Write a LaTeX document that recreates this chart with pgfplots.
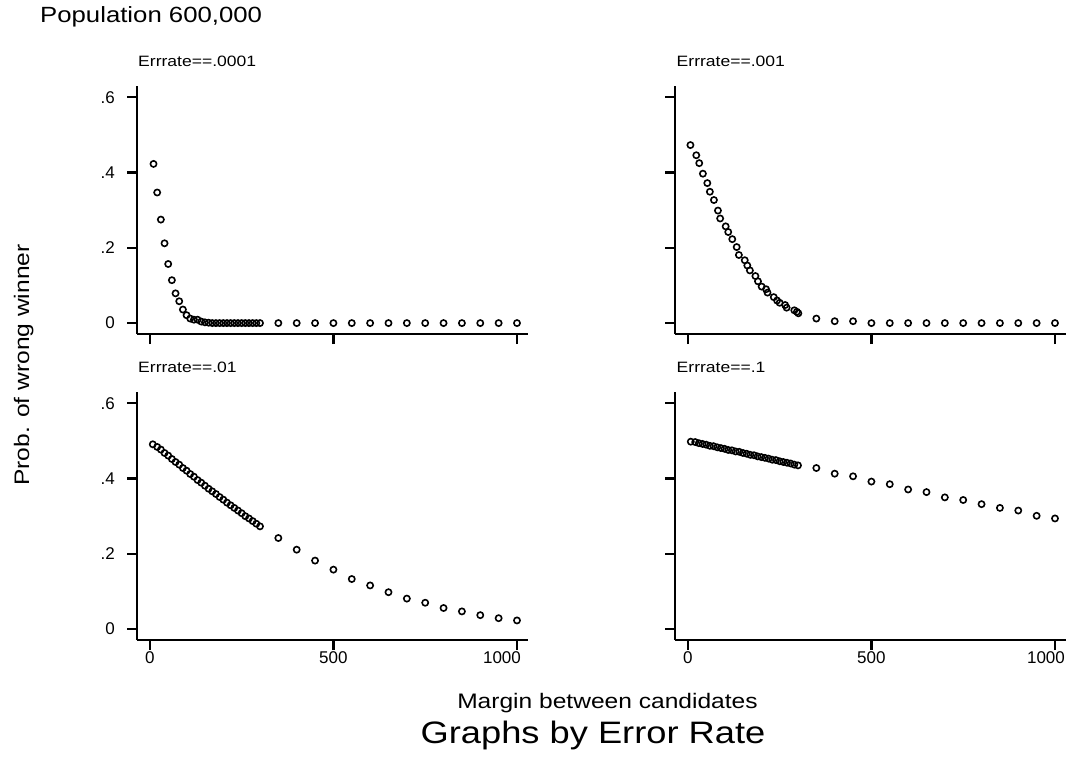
\documentclass[border=0pt]{standalone}
\usepackage{pgfplots}
\pgfplotsset{compat=1.18}
\usepackage{pgfplotstable}
\usepackage{fontspec}
\setmainfont{Liberation Sans}
\usepackage{graphicx}
\newcommand{\sx}[1]{\scalebox{1.17}[1]{#1}}

\pgfplotstableread{
x y
10 .423
20 .347
30 .275
40 .212
50 .157
60 .114
70 .079
80 .058
90 .036
100 .021
110 .012
120 .009
130 .009
140 .004
150 .002
160 .001
170 0
180 0
190 0
200 0
210 0
220 0
230 0
240 0
250 0
260 0
270 0
280 0
290 0
300 0
350 0
400 0
450 0
500 0
550 0
600 0
650 0
700 0
750 0
800 0
850 0
900 0
950 0
1000 0
}\tA

\pgfplotstableread{
x y
7 .473
23 .446
31 .425
41 .397
53 .372
60 .349
71 .327
82 .299
88 .278
103 .257
110 .242
121 .223
133 .202
139 .181
155 .167
162 .153
169 .140
184 .125
191 .111
201 .097
213 .090
217 .081
234 .069
243 .060
250 .054
265 .048
269 .041
290 .034
297 .030
301 .026
350 .012
400 .005
450 .005
500 0
550 0
600 0
650 0
700 0
750 0
800 0
850 0
900 0
950 0
1000 0
}\tB

\pgfplotstableread{
x y
8 .491
20 .484
30 .477
40 .468
50 .461
60 .452
70 .444
80 .437
90 .428
100 .421
110 .412
120 .405
130 .396
140 .389
150 .381
160 .373
170 .366
180 .359
190 .351
200 .344
210 .336
220 .329
230 .322
240 .315
250 .308
260 .300
270 .294
280 .287
290 .280
300 .273
350 .242
400 .211
450 .182
500 .158
550 .133
600 .116
650 .098
700 .081
750 .070
800 .056
850 .047
900 .037
950 .029
1000 .023
}\tC

\pgfplotstableread{
x y
8 .498
20 .497
30 .494
40 .492
50 .490
60 .487
70 .486
80 .483
90 .481
100 .479
110 .476
120 .475
130 .472
140 .471
150 .468
160 .466
170 .463
180 .462
190 .459
200 .457
210 .455
220 .453
230 .450
240 .449
250 .446
260 .444
270 .442
280 .440
290 .437
300 .435
350 .428
400 .413
450 .406
500 .392
550 .385
600 .371
650 .364
700 .350
750 .343
800 .332
850 .322
900 .315
950 .301
1000 .294
}\tD

\pgfplotsset{
  panel/.style={
    scale only axis, width=391pt, height=248pt,
    xmin=-35, xmax=1030, ymin=-0.029, ymax=0.63,
    axis x line*=bottom, axis y line*=left,
    axis line style={line width=2.3pt,-},
    every tick/.style={line width=2.3pt, black},
    tick align=outside, major tick length=10pt,
    xtick={0,500}, ytick={0,0.2,0.4,0.6},
    extra x ticks={1000},
    xticklabels={}, yticklabels={}, extra x tick labels={},
    clip=false, anchor=south west,
    tick label style={font=\fontsize{17}{20}\selectfont},
    yticklabel style={inner sep=0pt, xshift=-12pt},
    xticklabel style={inner sep=0pt, yshift=-1pt},
  },
  pts/.style={only marks, mark=o, mark size=3.1pt, mark options={line width=1.6pt, black}},
}

\begin{document}
\begin{tikzpicture}
\path[use as bounding box] (0pt,0pt) rectangle (1072pt,-757pt);

\begin{axis}[panel, at={(137pt,-334pt)}, yticklabels={0,.2,.4,.6}]
\addplot[pts] table[x=x,y=y] {\tA};
\end{axis}

\begin{axis}[panel, at={(675pt,-334pt)}]
\addplot[pts] table[x=x,y=y] {\tB};
\end{axis}

\begin{axis}[panel, at={(137pt,-640pt)}, yticklabels={0,.2,.4,.6}, xticklabels={0,500},
  extra x tick labels={1000}, extra x tick style={xticklabel style={xshift=-15pt}}]
\addplot[pts] table[x=x,y=y] {\tC};
\end{axis}

\begin{axis}[panel, at={(675pt,-640pt)}, xticklabels={0,500},
  extra x tick labels={1000}, extra x tick style={xticklabel style={xshift=-9pt}}]
\addplot[pts] table[x=x,y=y] {\tD};
\end{axis}

\node[anchor=base west, inner sep=0pt, font=\fontsize{22}{26}\selectfont] at (40pt,-23pt) {\sx{Population 600,000}};
\node[anchor=base west, inner sep=0pt, font=\fontsize{15}{18}\selectfont] at (138pt,-66.5pt) {\sx{Errrate==.0001}};
\node[anchor=base west, inner sep=0pt, font=\fontsize{15}{18}\selectfont] at (676.5pt,-66.5pt) {\sx{Errrate==.001}};
\node[anchor=base west, inner sep=0pt, font=\fontsize{15}{18}\selectfont] at (138pt,-372.3pt) {\sx{Errrate==.01}};
\node[anchor=base west, inner sep=0pt, font=\fontsize{15}{18}\selectfont] at (676.5pt,-372.3pt) {\sx{Errrate==.1}};
\node[anchor=base, inner sep=0pt, font=\fontsize{21}{25}\selectfont] at (607.5pt,-708pt) {\sx{Margin between candidates}};
\node[anchor=base, inner sep=0pt, font=\fontsize{31}{36}\selectfont] at (593pt,-743pt) {\sx{Graphs by Error Rate}};
\node[anchor=base, inner sep=0pt, rotate=90, font=\fontsize{21}{25}\selectfont] at (29pt,-365pt) {\sx{Prob. of wrong winner}};
\end{tikzpicture}
\end{document}
